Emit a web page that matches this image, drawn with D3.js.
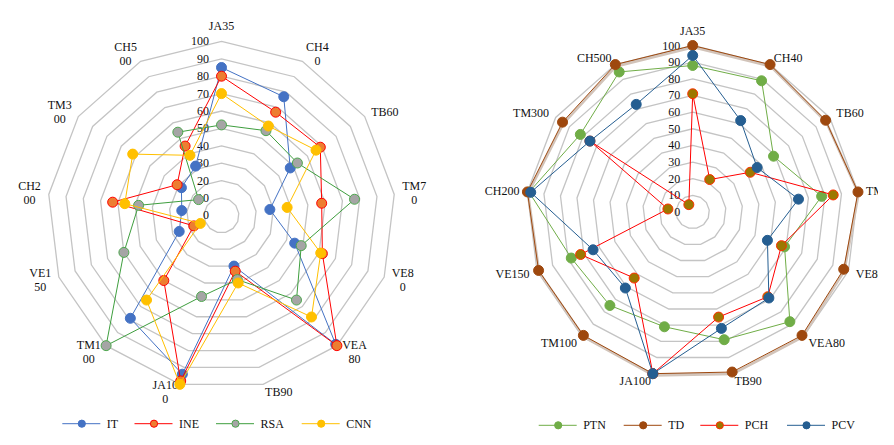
<!DOCTYPE html>
<html><head><meta charset="utf-8">
<script src="https://cdn.jsdelivr.net/npm/d3@7"></script>
<style>body{margin:0;background:#fff} svg{display:block}</style>
</head><body><svg id="c" width="894" height="445" font-family="'Liberation Serif', 'Times New Roman', serif" font-size="12"></svg>
<script>
// ---- data ----
const categories = ["JA35","CH40","TB60","TM70","VE80","VEA80","TB90","JA100","TM100","VE150","CH200","TM300","CH500"];
const leftAxisLabels = [["JA35"],["CH4","0"],["TB60"],["TM7","0"],["VE8","0"],["VEA","80"],["TB90"],["JA10","0"],["TM1","00"],["VE1","50"],["CH2","00"],["TM3","00"],["CH5","00"]];
const rightAxisLabels = categories.map(c => [c]);
const ringTicks = [0,10,20,30,40,50,60,70,80,90,100];

const leftSeriesNames = ["IT","INE","RSA","CNN"];
const IT  = [85,77,48,28,45,99,30,94,79,26,23,28,32];
const INE = [80,67,69,58,62,100,33,98,50,17,63,31,45];
const RSA = [52,55,53,77,49,65,38,48,100,60,48,16,54];
const CNN = [70,58,66,38,61,78,40,100,65,13,56,62,39];

const rightSeriesNames = ["PTN","TD","PCH","PCV"];
const PTN = [88,89,59,78,59,88,79,71,75,78,99,82,95];
const TD  = [100,100,97,100,97,99,99,100,99,99,100,95,100];
const PCH = [71,22,42,85,57,68,65,100,53,72,15,75,5];
const PCV = [94,62,47,64,48,69,72,100,61,64,98,75,73];

// ---- styles ----
const leftStyles = [
  {line:"#4472C4", fill:"#4472C4", stroke:"#4472C4"},
  {line:"#FF0000", fill:"#ED7D31", stroke:"#FF0000"},
  {line:"#3E9E3E", fill:"#A5A5A5", stroke:"#4EA84E"},
  {line:"#FFC000", fill:"#FFC000", stroke:"#FFC000"}
];
const rightStyles = [
  {line:"#70AD47", fill:"#70AD47", stroke:"#70AD47"},
  {line:"#9E480E", fill:"#9E480E", stroke:"#9E480E", shadow:true},
  {line:"#FF0000", fill:"#9C7800", stroke:"#FF3000"},
  {line:"#255E91", fill:"#255E91", stroke:"#255E91"}
];
const textColor = "#111";

const svg = d3.select("#c");
svg.append("defs").append("clipPath").attr("id","clipR")
  .append("rect").attr("x",447).attr("y",0).attr("width",431).attr("height",445);

function drawRadar(g, cfg, axisLabels, names, data, styles, legend) {
  const {cx, cy, R} = cfg;
  const n = categories.length;
  const ang = d3.scaleLinear().domain([0, n]).range([0, 2*Math.PI]);
  const r = d3.scaleLinear().domain([0, 100]).range([0, R]);
  const root = g.append("g").attr("transform", `translate(${cx},${cy})`);
  const radial = d3.lineRadial().angle((d,i)=>ang(i)).radius(d=>r(d)).curve(d3.curveLinearClosed);

  ringTicks.filter(t=>t>0).forEach(t=>{
    root.append("path").attr("d", radial(categories.map(()=>t)))
      .attr("fill","none").attr("stroke","#C4C4C4").attr("stroke-width",1.3);
  });
  ringTicks.forEach(t=>{
    root.append("text").attr("x",-12.5).attr("y",-r(t)).attr("text-anchor","end")
      .attr("dominant-baseline","central").attr("fill",textColor).text(t);
  });
  axisLabels.forEach((lines,i)=>{
    const a = ang(i), s = Math.sin(a), c = Math.cos(a);
    const vx = r(100)*s, vy = -r(100)*c;
    const t = root.append("text").attr("text-anchor","middle").attr("fill",textColor);
    const spans = lines.map(l => t.append("tspan").text(l));
    const w = d3.max(spans, sp => sp.node().getComputedTextLength());
    const h = lines.length*14;
    let lx = vx + 8*s, ly = vy - 8*c;
    if (Math.abs(s) > 0.1) lx += Math.sign(s)*w/2; else ly -= Math.sign(c)*h/2;
    spans.forEach((sp,k)=> sp.attr("x",lx).attr("y", ly - h/2 + 7 + k*14).attr("dominant-baseline","central"));
  });
  data.forEach((vals,si)=>{
    const st = styles[si];
    const sg = root.append("g");
    if (st.shadow) {
      sg.append("path").attr("d", radial(vals)).attr("transform","translate(0.6,1.8)")
        .attr("fill","none").attr("stroke","#D2C4BA").attr("stroke-width",2.6).attr("stroke-linejoin","round");
    }
    sg.append("path").attr("d", radial(vals)).attr("fill","none")
      .attr("stroke", st.line).attr("stroke-width",1);
    sg.selectAll("circle").data(vals).join("circle")
      .attr("cx",(d,i)=>r(d)*Math.sin(ang(i))).attr("cy",(d,i)=>-r(d)*Math.cos(ang(i)))
      .attr("r",5).attr("fill",st.fill).attr("stroke",st.stroke).attr("stroke-width",1);
  });
  const lg = g.append("g");
  names.forEach((nm,si)=>{
    const st = styles[si], x0 = legend.x[si];
    lg.append("line").attr("x1",x0).attr("x2",x0+38).attr("y1",legend.y).attr("y2",legend.y)
      .attr("stroke",st.line).attr("stroke-width",1);
    lg.append("circle").attr("cx",x0+19.5).attr("cy",legend.y).attr("r",3.6)
      .attr("fill",st.fill).attr("stroke",st.stroke).attr("stroke-width",1);
    lg.append("text").attr("x",x0+44.5).attr("y",legend.y).attr("dominant-baseline","central")
      .attr("fill",textColor).text(nm);
  });
}

drawRadar(svg.append("g"), {cx:221.5, cy:215.4, R:174}, leftAxisLabels, leftSeriesNames,
  [IT, INE, RSA, CNN], leftStyles, {y:423.7, x:[62.3,134.5,216,301.7]});
drawRadar(svg.append("g").attr("clip-path","url(#clipR)"), {cx:692.7, cy:212, R:166.5}, rightAxisLabels, rightSeriesNames,
  [PTN, TD, PCH, PCV], rightStyles, {y:425.3, x:[538.7,623.7,700.3,787]});
</script></body></html>
